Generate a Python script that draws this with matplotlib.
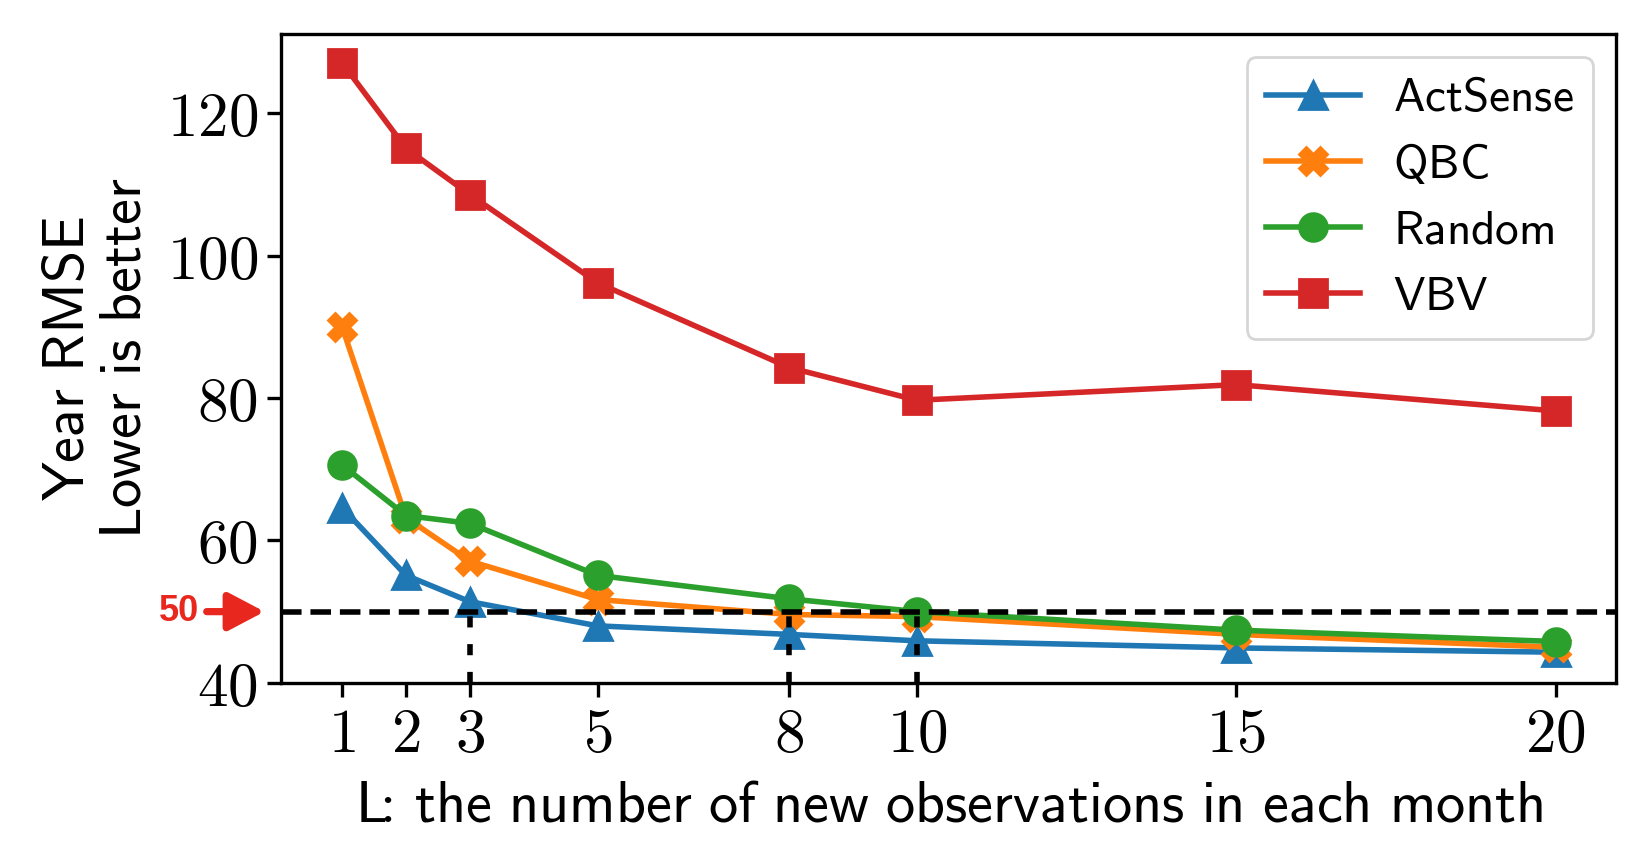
import matplotlib
matplotlib.use("Agg")
import matplotlib.pyplot as plt

plt.rcParams['mathtext.fontset'] = 'cm'
plt.rcParams['font.family'] = ['DejaVu Sans']

L_values = [1, 2, 3, 5, 8, 10, 15, 20]
actsense = [64.6, 55.1, 51.4, 48.0, 46.8, 45.9, 44.9, 44.3]
qbc = [90.0, 63.2, 57.1, 51.7, 49.6, 49.3, 46.8, 45.0]
random_ = [70.6, 63.5, 62.4, 55.1, 51.8, 50.0, 47.4, 45.8]
vbv = [127.1, 115.1, 108.6, 96.2, 84.3, 79.7, 81.9, 78.2]
threshold = 50
cross_L = [3, 8, 10]
y_ticks = [40, 60, 80, 100, 120]

def sf(s):
    return r'$\mathsf{' + s.replace(':', r'\!\!:\!').replace(' ', r'\ ') + '}$'

fig = plt.figure(figsize=(8.23, 4.22), dpi=200)
ax = fig.add_axes([0.171, 0.191, 0.811, 0.769])

series = [
    ('ActSense', actsense, '^', 'tab:blue'),
    ('QBC', qbc, 'X', 'tab:orange'),
    ('Random', random_, 'o', 'tab:green'),
    ('VBV', vbv, 's', 'tab:red'),
]
for name, vals, m, c in series:
    ax.plot(L_values, vals, marker=m, color=c, lw=2, markersize=10, label=sf(name))

ax.axhline(threshold, color='black', ls='--', lw=2, zorder=5)
for xv in cross_L:
    ax.plot([xv, xv], [40, threshold], color='black', ls=(0, (2, 3)), lw=2, zorder=5)

ax.set_ylim(40, 131.2)
ax.set_xticks(L_values)
ax.set_xticklabels([r'$%d$' % v for v in L_values], fontsize=22)
ax.set_yticks(y_ticks)
ax.set_yticklabels([r'$%d$' % v for v in y_ticks], fontsize=22)
ax.tick_params(axis='both', length=5, width=1.2)
for sp in ax.spines.values():
    sp.set_linewidth(1.2)

ax.set_xlabel(sf('L: the number of new observations in each month'), fontsize=21, labelpad=4)
ax.set_ylabel(sf('Year RMSE') + '\n' + sf('Lower is better'), fontsize=21, labelpad=5,
              linespacing=1.0)

leg = ax.legend(loc='upper right', fontsize=17, handlelength=2.0, handletextpad=0.7,
                borderpad=0.4, labelspacing=0.45, framealpha=0.8)

ax.annotate('', xy=(-0.0127, threshold), xycoords=('axes fraction', 'data'),
            xytext=(-0.056, threshold), textcoords=('axes fraction', 'data'),
            arrowprops=dict(arrowstyle='-|>,head_width=0.58,head_length=1.1',
                            color='#e8281e', lw=2.6, shrinkA=0, shrinkB=0),
            annotation_clip=False)
ax.text(-0.062, threshold, '50', transform=ax.get_yaxis_transform(),
        color='#e8281e', fontsize=13, fontweight='bold', ha='right', va='center',
        family=['Liberation Sans', 'DejaVu Sans'])

fig.savefig('out.png', dpi=200)
